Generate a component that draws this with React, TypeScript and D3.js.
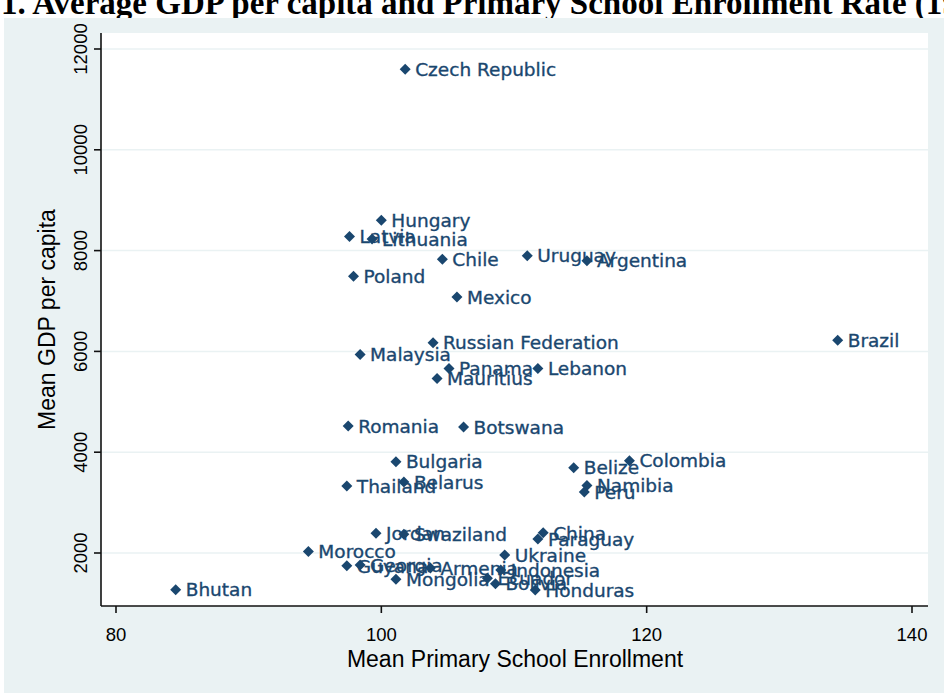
import React from "react";
import * as d3 from "d3";

const countries = [
  "Czech Republic", "Hungary", "Latvia", "Lithuania", "Poland", "Chile", "Uruguay", "Argentina",
  "Mexico", "Russian Federation", "Malaysia", "Panama", "Mauritius", "Lebanon", "Romania", "Botswana",
  "Brazil", "Bulgaria", "Thailand", "Belarus", "Belize", "Colombia", "Namibia", "Peru",
  "Jordan", "Swaziland", "China", "Paraguay", "Morocco", "Ukraine", "Guyana", "Georgia",
  "Armenia", "Indonesia", "Mongolia", "Ecuador", "Bolivia", "Honduras", "Bhutan",
];
const enrollment = [
  101.8, 100.0, 97.6, 99.3, 97.9, 104.6, 111.0, 115.5,
  105.7, 103.9, 98.4, 105.1, 104.2, 111.8, 97.5, 106.2,
  134.4, 101.1, 97.4, 101.7, 114.5, 118.7, 115.5, 115.3,
  99.6, 101.7, 112.2, 111.8, 94.5, 109.3, 97.4, 98.4,
  103.7, 109.0, 101.1, 108.0, 108.6, 111.6, 84.5,
];
const gdp = [
  11600, 8600, 8280, 8230, 7490, 7830, 7900, 7800,
  7080, 6170, 5940, 5660, 5460, 5660, 4520, 4500,
  6220, 3810, 3330, 3410, 3690, 3830, 3340, 3210,
  2390, 2370, 2400, 2280, 2030, 1960, 1745, 1760,
  1700, 1665, 1480, 1500, 1390, 1265, 1270,
];
const xTicks = [80, 100, 120, 140];
const yTicks = [2000, 4000, 6000, 8000, 10000, 12000];

const title = "1. Average GDP per capita and Primary School Enrollment Rate (1990-2000)";
const xTitle = "Mean Primary School Enrollment";
const yTitle = "Mean GDP per capita";

const W = 944;
const H = 693;
const NAVY = "#1A476F";
const BG = "#EAF2F3";
const SANS = "Liberation Sans, Arial, sans-serif";

export default function App() {
  const plotL = 101, plotR = 928, plotT = 33, plotB = 606;
  const x = d3.scaleLinear().domain([80, 140]).range([116, 912]);
  const y = d3.scaleLinear().domain([2000, 12000]).range([553, 49]);
  const diamond = {
    draw(ctx: any, size: number) {
      const r = Math.sqrt(size) / 2;
      ctx.moveTo(0, -r);
      ctx.lineTo(r, 0);
      ctx.lineTo(0, r);
      ctx.lineTo(-r, 0);
      ctx.closePath();
    },
  };
  const sym = d3.symbol().type(diamond as any).size(121)();
  const pts = countries.map((c, i) => ({ c, xv: enrollment[i], yv: gdp[i] }));

  return (
    <svg width={W} height={H} style={{ position: "absolute", left: 0, top: 0, background: "#fff" }}>
      <rect x={0} y={0} width={W} height={H} fill="#fff" />
      <text x={1} y={14} fontFamily="Liberation Serif, Times New Roman, serif" fontWeight="bold" fontSize={33} fill="#000">{title}</text>
      <rect x={4} y={18} width={W - 4} height={H - 18} fill={BG} />
      <rect x={plotL} y={plotT} width={plotR - plotL} height={plotB - plotT} fill="#fff" />
      {yTicks.map((t) => (
        <line key={"g" + t} x1={plotL} x2={plotR} y1={y(t)} y2={y(t)} stroke={BG} strokeWidth={1.5} />
      ))}
      <line x1={plotL} x2={plotL} y1={plotT} y2={plotB} stroke="#111" strokeWidth={1.6} />
      <line x1={plotL} x2={plotR} y1={plotB} y2={plotB} stroke="#111" strokeWidth={1.6} />
      {yTicks.map((t) => (
        <g key={"yt" + t}>
          <line x1={plotL - 7} x2={plotL} y1={y(t)} y2={y(t)} stroke="#111" strokeWidth={1.6} />
          <text transform={`translate(${plotL - 14},${y(t)}) rotate(-90)`} textAnchor="middle" fontFamily={SANS} fontSize={18.5} fill="#000">{t}</text>
        </g>
      ))}
      {xTicks.map((t) => (
        <g key={"xt" + t}>
          <line x1={x(t)} x2={x(t)} y1={plotB} y2={plotB + 7} stroke="#111" strokeWidth={1.6} />
          <text x={x(t)} y={plotB + 35} textAnchor="middle" fontFamily={SANS} fontSize={18.5} fill="#000">{t}</text>
        </g>
      ))}
      <text x={515} y={667} textAnchor="middle" fontFamily={SANS} fontSize={23} fill="#000">{xTitle}</text>
      <text transform={`translate(55,${(plotT + plotB) / 2}) rotate(-90)`} textAnchor="middle" fontFamily={SANS} fontSize={23} fill="#000">{yTitle}</text>
      {pts.map((p) => (
        <text key={"l" + p.c} x={x(p.xv) + 10} y={y(p.yv)} dy="0.36em" fontFamily="DejaVu Sans, sans-serif" fontSize={18.5} fill={NAVY} stroke={NAVY} strokeWidth={0.35}>{p.c}</text>
      ))}
      {pts.map((p) => (
        <path key={"m" + p.c} d={sym || ""} transform={`translate(${x(p.xv)},${y(p.yv)})`} fill={NAVY} />
      ))}
    </svg>
  );
}
